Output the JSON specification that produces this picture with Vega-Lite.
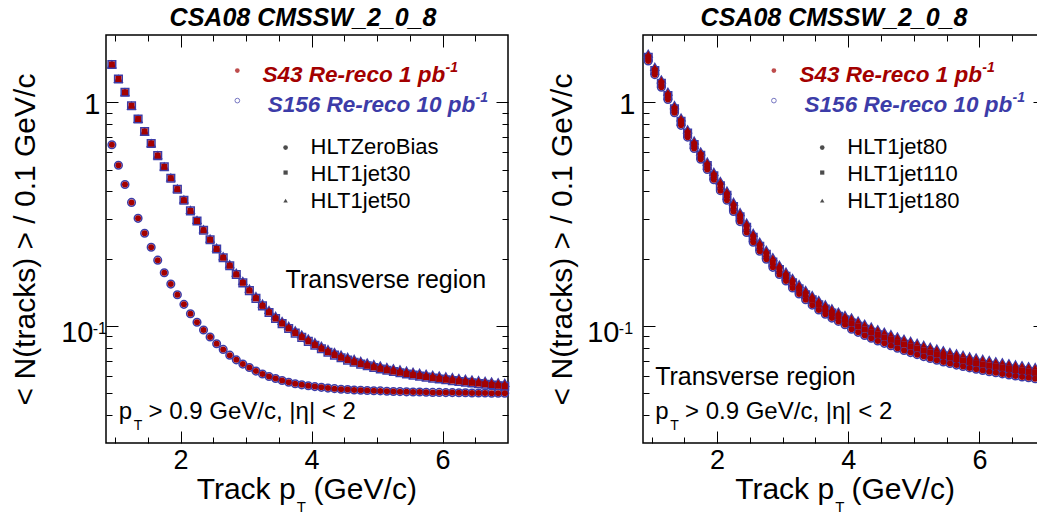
{
"$schema":"https://vega.github.io/schema/vega-lite/v6.json",
"padding":{"left":9,"top":4,"right":0,"bottom":0},
"spacing":33,
"config":{"font":"Liberation Sans","view":{"stroke":"#000","strokeWidth":1.5},
"axis":{"grid":false,"domain":false,"labelColor":"#000","labelFontSize":25,"labelFont":"Liberation Sans","tickColor":"#000","tickWidth":1,"titleColor":"#000","titleFontSize":30,"titleFontWeight":"normal","titleFont":"Liberation Sans"},
"title":{"fontSize":25,"fontWeight":"bold","fontStyle":"italic","color":"#000","offset":4,"frame":"group","font":"Liberation Sans"}},
"hconcat":[
{"width":402,"height":408,
"title":{"text":"CSA08 CMSSW_2_0_8","dx":-4},
"data":{"values":[
{"pt":0.95,"HLTZeroBias":0.646,"HLT1jet30":1.476,"HLT1jet50":1.476},
{"pt":1.05,"HLTZeroBias":0.523,"HLT1jet30":1.272,"HLT1jet50":1.272},
{"pt":1.15,"HLTZeroBias":0.429,"HLT1jet30":1.109,"HLT1jet50":1.109},
{"pt":1.25,"HLTZeroBias":0.357,"HLT1jet30":0.966,"HLT1jet50":0.966},
{"pt":1.35,"HLTZeroBias":0.303,"HLT1jet30":0.842,"HLT1jet50":0.842},
{"pt":1.45,"HLTZeroBias":0.260,"HLT1jet30":0.741,"HLT1jet50":0.741},
{"pt":1.55,"HLTZeroBias":0.225,"HLT1jet30":0.655,"HLT1jet50":0.656},
{"pt":1.65,"HLTZeroBias":0.197,"HLT1jet30":0.578,"HLT1jet50":0.580},
{"pt":1.75,"HLTZeroBias":0.173,"HLT1jet30":0.515,"HLT1jet50":0.517},
{"pt":1.85,"HLTZeroBias":0.154,"HLT1jet30":0.458,"HLT1jet50":0.461},
{"pt":1.95,"HLTZeroBias":0.138,"HLT1jet30":0.409,"HLT1jet50":0.412},
{"pt":2.05,"HLTZeroBias":0.125,"HLT1jet30":0.365,"HLT1jet50":0.368},
{"pt":2.15,"HLTZeroBias":0.1135,"HLT1jet30":0.327,"HLT1jet50":0.330},
{"pt":2.25,"HLTZeroBias":0.104,"HLT1jet30":0.295,"HLT1jet50":0.298},
{"pt":2.35,"HLTZeroBias":0.0960,"HLT1jet30":0.268,"HLT1jet50":0.271},
{"pt":2.45,"HLTZeroBias":0.0893,"HLT1jet30":0.243,"HLT1jet50":0.246},
{"pt":2.55,"HLTZeroBias":0.0833,"HLT1jet30":0.221,"HLT1jet50":0.224},
{"pt":2.65,"HLTZeroBias":0.0786,"HLT1jet30":0.202,"HLT1jet50":0.205},
{"pt":2.75,"HLTZeroBias":0.0741,"HLT1jet30":0.186,"HLT1jet50":0.189},
{"pt":2.85,"HLTZeroBias":0.0706,"HLT1jet30":0.170,"HLT1jet50":0.173},
{"pt":2.95,"HLTZeroBias":0.0676,"HLT1jet30":0.156,"HLT1jet50":0.159},
{"pt":3.05,"HLTZeroBias":0.0653,"HLT1jet30":0.144,"HLT1jet50":0.147},
{"pt":3.15,"HLTZeroBias":0.0629,"HLT1jet30":0.133,"HLT1jet50":0.136},
{"pt":3.25,"HLTZeroBias":0.0610,"HLT1jet30":0.123,"HLT1jet50":0.126},
{"pt":3.35,"HLTZeroBias":0.0595,"HLT1jet30":0.115,"HLT1jet50":0.118},
{"pt":3.45,"HLTZeroBias":0.0583,"HLT1jet30":0.108,"HLT1jet50":0.111},
{"pt":3.55,"HLTZeroBias":0.0571,"HLT1jet30":0.1025,"HLT1jet50":0.1053},
{"pt":3.65,"HLTZeroBias":0.0561,"HLT1jet30":0.0975,"HLT1jet50":0.1002},
{"pt":3.75,"HLTZeroBias":0.0552,"HLT1jet30":0.0930,"HLT1jet50":0.0957},
{"pt":3.85,"HLTZeroBias":0.0546,"HLT1jet30":0.0890,"HLT1jet50":0.0917},
{"pt":3.95,"HLTZeroBias":0.0541,"HLT1jet30":0.0854,"HLT1jet50":0.0880},
{"pt":4.05,"HLTZeroBias":0.0536,"HLT1jet30":0.0821,"HLT1jet50":0.0847},
{"pt":4.15,"HLTZeroBias":0.0532,"HLT1jet30":0.0791,"HLT1jet50":0.0816},
{"pt":4.25,"HLTZeroBias":0.0528,"HLT1jet30":0.0764,"HLT1jet50":0.0789},
{"pt":4.35,"HLTZeroBias":0.0525,"HLT1jet30":0.0741,"HLT1jet50":0.0766},
{"pt":4.45,"HLTZeroBias":0.0522,"HLT1jet30":0.0721,"HLT1jet50":0.0745},
{"pt":4.55,"HLTZeroBias":0.0520,"HLT1jet30":0.0704,"HLT1jet50":0.0728},
{"pt":4.65,"HLTZeroBias":0.0518,"HLT1jet30":0.0689,"HLT1jet50":0.0713},
{"pt":4.75,"HLTZeroBias":0.0516,"HLT1jet30":0.0676,"HLT1jet50":0.0699},
{"pt":4.85,"HLTZeroBias":0.0515,"HLT1jet30":0.0664,"HLT1jet50":0.0687},
{"pt":4.95,"HLTZeroBias":0.0514,"HLT1jet30":0.0653,"HLT1jet50":0.0676},
{"pt":5.05,"HLTZeroBias":0.0513,"HLT1jet30":0.0643,"HLT1jet50":0.0666},
{"pt":5.15,"HLTZeroBias":0.0511,"HLT1jet30":0.0634,"HLT1jet50":0.0656},
{"pt":5.25,"HLTZeroBias":0.0510,"HLT1jet30":0.0626,"HLT1jet50":0.0648},
{"pt":5.35,"HLTZeroBias":0.0509,"HLT1jet30":0.0618,"HLT1jet50":0.0640},
{"pt":5.45,"HLTZeroBias":0.0508,"HLT1jet30":0.0610,"HLT1jet50":0.0632},
{"pt":5.55,"HLTZeroBias":0.0507,"HLT1jet30":0.0603,"HLT1jet50":0.0625},
{"pt":5.65,"HLTZeroBias":0.0507,"HLT1jet30":0.0597,"HLT1jet50":0.0618},
{"pt":5.75,"HLTZeroBias":0.0506,"HLT1jet30":0.0591,"HLT1jet50":0.0612},
{"pt":5.85,"HLTZeroBias":0.0505,"HLT1jet30":0.0585,"HLT1jet50":0.0606},
{"pt":5.95,"HLTZeroBias":0.0505,"HLT1jet30":0.0580,"HLT1jet50":0.0601},
{"pt":6.05,"HLTZeroBias":0.0504,"HLT1jet30":0.0575,"HLT1jet50":0.0596},
{"pt":6.15,"HLTZeroBias":0.0504,"HLT1jet30":0.0570,"HLT1jet50":0.0591},
{"pt":6.25,"HLTZeroBias":0.0503,"HLT1jet30":0.0565,"HLT1jet50":0.0586},
{"pt":6.35,"HLTZeroBias":0.0503,"HLT1jet30":0.0561,"HLT1jet50":0.0581},
{"pt":6.45,"HLTZeroBias":0.0502,"HLT1jet30":0.0557,"HLT1jet50":0.0577},
{"pt":6.55,"HLTZeroBias":0.0502,"HLT1jet30":0.0553,"HLT1jet50":0.0573},
{"pt":6.65,"HLTZeroBias":0.0502,"HLT1jet30":0.0549,"HLT1jet50":0.0569},
{"pt":6.75,"HLTZeroBias":0.0501,"HLT1jet30":0.0545,"HLT1jet50":0.0565},
{"pt":6.85,"HLTZeroBias":0.0501,"HLT1jet30":0.0541,"HLT1jet50":0.0561},
{"pt":6.95,"HLTZeroBias":0.0501,"HLT1jet30":0.0538,"HLT1jet50":0.0557}
]},
"transform":[{"fold":["HLTZeroBias","HLT1jet30","HLT1jet50"],"as":["trigger","n"]}],
"resolve":{"axis":{"x":"independent","y":"independent"}},
"layer":[
{"mark":{"type":"point","filled":false,"stroke":"#3c3ca8","strokeWidth":1.5,"size":58,"opacity":1},
"encoding":{
"x":{"field":"pt","type":"quantitative","scale":{"domain":[0.86,7],"nice":false,"zero":false},"axis":{"orient":"bottom","values":[1,1.5,2,2.5,3,3.5,4,4.5,5,5.5,6,6.5],"labels":false,"title":null,"tickSize":{"condition":{"test":"datum.value === 2 || datum.value === 4 || datum.value === 6","value":-12},"value":-6}}},
"y":{"field":"n","type":"quantitative","scale":{"type":"log","domain":[0.03,2],"nice":false},"axis":{"orient":"left","values":[0.04,0.05,0.06,0.07,0.08,0.09,0.1,0.2,0.3,0.4,0.5,0.6,0.7,0.8,0.9,1],"labels":false,"title":null,"tickSize":{"condition":{"test":"datum.value === 0.1 || datum.value === 1","value":-12},"value":-6}}},
"shape":{"field":"trigger","type":"nominal","scale":{"domain":["HLTZeroBias","HLT1jet30","HLT1jet50"],"range":["circle","square","triangle-up"]},"legend":null}}},
{"mark":{"type":"point","filled":true,"color":"#a30000","size":36,"opacity":1,"strokeWidth":0},
"encoding":{
"x":{"field":"pt","type":"quantitative","scale":{"domain":[0.86,7],"nice":false,"zero":false},"axis":{"orient":"bottom","values":[2,4,6],"ticks":false,"labelPadding":4,"labelFontSize":27,"title":null}},
"y":{"field":"n","type":"quantitative","scale":{"type":"log","domain":[0.03,2],"nice":false},"axis":{"orient":"left","values":[0.1,1],"ticks":false,"labelFontSize":29,"labelPadding":{"condition":{"test":"datum.value === 1","value":6},"value":13},"labelOffset":{"condition":{"test":"datum.value === 1","value":2},"value":6},"labelExpr":"datum.value === 1 ? '1' : '10'","minExtent":60,"maxExtent":60,"title":"< N(tracks) > / 0.1 GeV/c","titlePadding":6}},
"shape":{"field":"trigger","type":"nominal","scale":{"domain":["HLTZeroBias","HLT1jet30","HLT1jet50"],"range":["circle","square","triangle-up"]},"legend":null}}},
{"data":{"values":[{}]},"mark":{"type":"point","opacity":0},
"encoding":{
"x":{"datum":2,"type":"quantitative","scale":{"domain":[0.86,7],"nice":false,"zero":false},"axis":{"orient":"top","values":[1,1.5,2,2.5,3,3.5,4,4.5,5,5.5,6,6.5],"labels":false,"title":null,"tickSize":{"condition":{"test":"datum.value === 2 || datum.value === 4 || datum.value === 6","value":-12},"value":-6}}},
"y":{"datum":1,"type":"quantitative","scale":{"type":"log","domain":[0.03,2],"nice":false},"axis":{"orient":"right","values":[0.04,0.05,0.06,0.07,0.08,0.09,0.1,0.2,0.3,0.4,0.5,0.6,0.7,0.8,0.9,1],"labels":false,"title":null,"tickSize":{"condition":{"test":"datum.value === 0.1 || datum.value === 1","value":-12},"value":-6}}}}},
{"data":{"values":[{}]},"mark":{"type":"text","text":"-1","align":"left","baseline":"alphabetic","fontSize":16,"color":"#000"},"encoding":{"x":{"datum":0.656,"type":"quantitative","scale":{"domain":[0.86,7],"nice":false,"zero":false},"axis":null},"y":{"datum":0.0921,"type":"quantitative","scale":{"type":"log","domain":[0.03,2],"nice":false},"axis":null}}},
{"data":{"values":[{}]},"mark":{"type":"point","filled":true,"color":"#a30000","size":22},"encoding":{"x":{"datum":2.866,"type":"quantitative","scale":{"domain":[0.86,7],"nice":false,"zero":false},"axis":null},"y":{"datum":1.387,"type":"quantitative","scale":{"type":"log","domain":[0.03,2],"nice":false},"axis":null}}},
{"data":{"values":[{}]},"mark":{"type":"point","filled":false,"stroke":"#3c3ca8","strokeWidth":1,"size":22},"encoding":{"x":{"datum":2.866,"type":"quantitative","scale":{"domain":[0.86,7],"nice":false,"zero":false},"axis":null},"y":{"datum":1.018,"type":"quantitative","scale":{"type":"log","domain":[0.03,2],"nice":false},"axis":null}}},
{"data":{"values":[{}]},"mark":{"type":"text","text":"S43 Re-reco 1 pb","align":"right","baseline":"alphabetic","fontSize":22.5,"fontWeight":"bold","fontStyle":"italic","color":"#a30000"},"encoding":{"x":{"datum":6.04,"type":"quantitative","scale":{"domain":[0.86,7],"nice":false,"zero":false},"axis":null},"y":{"datum":1.229,"type":"quantitative","scale":{"type":"log","domain":[0.03,2],"nice":false},"axis":null}}},
{"data":{"values":[{}]},"mark":{"type":"text","text":"-1","align":"left","baseline":"alphabetic","fontSize":14,"fontWeight":"bold","fontStyle":"italic","color":"#a30000"},"encoding":{"x":{"datum":6.045,"type":"quantitative","scale":{"domain":[0.86,7],"nice":false,"zero":false},"axis":null},"y":{"datum":1.363,"type":"quantitative","scale":{"type":"log","domain":[0.03,2],"nice":false},"axis":null}}},
{"data":{"values":[{}]},"mark":{"type":"text","text":"S156 Re-reco 10 pb","align":"right","baseline":"alphabetic","fontSize":22.5,"fontWeight":"bold","fontStyle":"italic","color":"#3c3ca8"},"encoding":{"x":{"datum":6.5,"type":"quantitative","scale":{"domain":[0.86,7],"nice":false,"zero":false},"axis":null},"y":{"datum":0.902,"type":"quantitative","scale":{"type":"log","domain":[0.03,2],"nice":false},"axis":null}}},
{"data":{"values":[{}]},"mark":{"type":"text","text":"-1","align":"left","baseline":"alphabetic","fontSize":14,"fontWeight":"bold","fontStyle":"italic","color":"#3c3ca8"},"encoding":{"x":{"datum":6.505,"type":"quantitative","scale":{"domain":[0.86,7],"nice":false,"zero":false},"axis":null},"y":{"datum":1.0,"type":"quantitative","scale":{"type":"log","domain":[0.03,2],"nice":false},"axis":null}}},
{"data":{"values":[{}]},"mark":{"type":"point","filled":true,"color":"#000","size":22,"shape":"circle"},"encoding":{"x":{"datum":3.603,"type":"quantitative","scale":{"domain":[0.86,7],"nice":false,"zero":false},"axis":null},"y":{"datum":0.628,"type":"quantitative","scale":{"type":"log","domain":[0.03,2],"nice":false},"axis":null}}},
{"data":{"values":[{}]},"mark":{"type":"point","filled":true,"color":"#000","size":18,"shape":"square"},"encoding":{"x":{"datum":3.603,"type":"quantitative","scale":{"domain":[0.86,7],"nice":false,"zero":false},"axis":null},"y":{"datum":0.4854,"type":"quantitative","scale":{"type":"log","domain":[0.03,2],"nice":false},"axis":null}}},
{"data":{"values":[{}]},"mark":{"type":"point","filled":true,"color":"#000","size":20,"shape":"triangle-up"},"encoding":{"x":{"datum":3.603,"type":"quantitative","scale":{"domain":[0.86,7],"nice":false,"zero":false},"axis":null},"y":{"datum":0.3635,"type":"quantitative","scale":{"type":"log","domain":[0.03,2],"nice":false},"axis":null}}},
{"data":{"values":[{}]},"mark":{"type":"text","text":"HLTZeroBias","align":"left","baseline":"alphabetic","fontSize":22,"color":"#000"},"encoding":{"x":{"datum":3.985,"type":"quantitative","scale":{"domain":[0.86,7],"nice":false,"zero":false},"axis":null},"y":{"datum":0.5863,"type":"quantitative","scale":{"type":"log","domain":[0.03,2],"nice":false},"axis":null}}},
{"data":{"values":[{}]},"mark":{"type":"text","text":"HLT1jet30","align":"left","baseline":"alphabetic","fontSize":22,"color":"#000"},"encoding":{"x":{"datum":3.985,"type":"quantitative","scale":{"domain":[0.86,7],"nice":false,"zero":false},"axis":null},"y":{"datum":0.4469,"type":"quantitative","scale":{"type":"log","domain":[0.03,2],"nice":false},"axis":null}}},
{"data":{"values":[{}]},"mark":{"type":"text","text":"HLT1jet50","align":"left","baseline":"alphabetic","fontSize":22,"color":"#000"},"encoding":{"x":{"datum":3.985,"type":"quantitative","scale":{"domain":[0.86,7],"nice":false,"zero":false},"axis":null},"y":{"datum":0.3381,"type":"quantitative","scale":{"type":"log","domain":[0.03,2],"nice":false},"axis":null}}},
{"data":{"values":[{}]},"mark":{"type":"text","text":"Transverse region","align":"left","baseline":"alphabetic","fontSize":25,"color":"#000"},"encoding":{"x":{"datum":3.603,"type":"quantitative","scale":{"domain":[0.86,7],"nice":false,"zero":false},"axis":null},"y":{"datum":0.148,"type":"quantitative","scale":{"type":"log","domain":[0.03,2],"nice":false},"axis":null}}},
{"data":{"values":[{}]},"mark":{"type":"text","text":"p","align":"left","baseline":"alphabetic","fontSize":24,"color":"#000"},"encoding":{"x":{"datum":1.053,"type":"quantitative","scale":{"domain":[0.86,7],"nice":false,"zero":false},"axis":null},"y":{"datum":0.0383,"type":"quantitative","scale":{"type":"log","domain":[0.03,2],"nice":false},"axis":null}}},
{"data":{"values":[{}]},"mark":{"type":"text","text":"T","align":"left","baseline":"alphabetic","fontSize":14,"color":"#000"},"encoding":{"x":{"datum":1.282,"type":"quantitative","scale":{"domain":[0.86,7],"nice":false,"zero":false},"axis":null},"y":{"datum":0.0342,"type":"quantitative","scale":{"type":"log","domain":[0.03,2],"nice":false},"axis":null}}},
{"data":{"values":[{}]},"mark":{"type":"text","text":"> 0.9 GeV/c, |η| < 2","align":"left","baseline":"alphabetic","fontSize":24,"color":"#000"},"encoding":{"x":{"datum":1.51,"type":"quantitative","scale":{"domain":[0.86,7],"nice":false,"zero":false},"axis":null},"y":{"datum":0.0383,"type":"quantitative","scale":{"type":"log","domain":[0.03,2],"nice":false},"axis":null}}},
{"data":{"values":[{}]},"mark":{"type":"text","text":"Track p","align":"right","baseline":"alphabetic","fontSize":30,"color":"#000"},"encoding":{"x":{"datum":3.756,"type":"quantitative","scale":{"domain":[0.86,7],"nice":false,"zero":false},"axis":null},"y":{"datum":0.01693,"type":"quantitative","scale":{"type":"log","domain":[0.03,2],"nice":false},"axis":null}}},
{"data":{"values":[{}]},"mark":{"type":"text","text":"T","align":"left","baseline":"alphabetic","fontSize":15,"color":"#000"},"encoding":{"x":{"datum":3.772,"type":"quantitative","scale":{"domain":[0.86,7],"nice":false,"zero":false},"axis":null},"y":{"datum":0.01481,"type":"quantitative","scale":{"type":"log","domain":[0.03,2],"nice":false},"axis":null}}},
{"data":{"values":[{}]},"mark":{"type":"text","text":"(GeV/c)","align":"left","baseline":"alphabetic","fontSize":30,"color":"#000"},"encoding":{"x":{"datum":4.03,"type":"quantitative","scale":{"domain":[0.86,7],"nice":false,"zero":false},"axis":null},"y":{"datum":0.01693,"type":"quantitative","scale":{"type":"log","domain":[0.03,2],"nice":false},"axis":null}}}
]},
{"width":402,"height":408,
"title":{"text":"CSA08 CMSSW_2_0_8","dx":-10},
"data":{"values":[
{"pt":0.95,"HLT1jet80":1.53,"HLT1jet110":1.59,"HLT1jet180":1.65},
{"pt":1.05,"HLT1jet80":1.33,"HLT1jet110":1.387,"HLT1jet180":1.44},
{"pt":1.15,"HLT1jet80":1.168,"HLT1jet110":1.217,"HLT1jet180":1.266},
{"pt":1.25,"HLT1jet80":1.029,"HLT1jet110":1.072,"HLT1jet180":1.115},
{"pt":1.35,"HLT1jet80":0.898,"HLT1jet110":0.935,"HLT1jet180":0.972},
{"pt":1.45,"HLT1jet80":0.789,"HLT1jet110":0.822,"HLT1jet180":0.855},
{"pt":1.55,"HLT1jet80":0.699,"HLT1jet110":0.728,"HLT1jet180":0.757},
{"pt":1.65,"HLT1jet80":0.622,"HLT1jet110":0.648,"HLT1jet180":0.674},
{"pt":1.75,"HLT1jet80":0.557,"HLT1jet110":0.580,"HLT1jet180":0.603},
{"pt":1.85,"HLT1jet80":0.501,"HLT1jet110":0.522,"HLT1jet180":0.543},
{"pt":1.95,"HLT1jet80":0.451,"HLT1jet110":0.470,"HLT1jet180":0.489},
{"pt":2.05,"HLT1jet80":0.403,"HLT1jet110":0.424,"HLT1jet180":0.445},
{"pt":2.15,"HLT1jet80":0.365,"HLT1jet110":0.384,"HLT1jet180":0.403},
{"pt":2.25,"HLT1jet80":0.325,"HLT1jet110":0.342,"HLT1jet180":0.359},
{"pt":2.35,"HLT1jet80":0.293,"HLT1jet110":0.308,"HLT1jet180":0.323},
{"pt":2.45,"HLT1jet80":0.262,"HLT1jet110":0.276,"HLT1jet180":0.290},
{"pt":2.55,"HLT1jet80":0.237,"HLT1jet110":0.249,"HLT1jet180":0.261},
{"pt":2.65,"HLT1jet80":0.216,"HLT1jet110":0.227,"HLT1jet180":0.238},
{"pt":2.75,"HLT1jet80":0.199,"HLT1jet110":0.209,"HLT1jet180":0.219},
{"pt":2.85,"HLT1jet80":0.183,"HLT1jet110":0.193,"HLT1jet180":0.203},
{"pt":2.95,"HLT1jet80":0.170,"HLT1jet110":0.179,"HLT1jet180":0.188},
{"pt":3.05,"HLT1jet80":0.159,"HLT1jet110":0.167,"HLT1jet180":0.175},
{"pt":3.15,"HLT1jet80":0.148,"HLT1jet110":0.156,"HLT1jet180":0.164},
{"pt":3.25,"HLT1jet80":0.139,"HLT1jet110":0.1466,"HLT1jet180":0.154},
{"pt":3.35,"HLT1jet80":0.131,"HLT1jet110":0.138,"HLT1jet180":0.145},
{"pt":3.45,"HLT1jet80":0.124,"HLT1jet110":0.131,"HLT1jet180":0.1375},
{"pt":3.55,"HLT1jet80":0.118,"HLT1jet110":0.1245,"HLT1jet180":0.1307},
{"pt":3.65,"HLT1jet80":0.113,"HLT1jet110":0.119,"HLT1jet180":0.125},
{"pt":3.75,"HLT1jet80":0.1085,"HLT1jet110":0.1142,"HLT1jet180":0.120},
{"pt":3.85,"HLT1jet80":0.1049,"HLT1jet110":0.1104,"HLT1jet180":0.1159},
{"pt":3.95,"HLT1jet80":0.1014,"HLT1jet110":0.1067,"HLT1jet180":0.1120},
{"pt":4.05,"HLT1jet80":0.0968,"HLT1jet110":0.1030,"HLT1jet180":0.1092},
{"pt":4.15,"HLT1jet80":0.0937,"HLT1jet110":0.0997,"HLT1jet180":0.1057},
{"pt":4.25,"HLT1jet80":0.0908,"HLT1jet110":0.0966,"HLT1jet180":0.1024},
{"pt":4.35,"HLT1jet80":0.0882,"HLT1jet110":0.0938,"HLT1jet180":0.0994},
{"pt":4.45,"HLT1jet80":0.0858,"HLT1jet110":0.0913,"HLT1jet180":0.0968},
{"pt":4.55,"HLT1jet80":0.0837,"HLT1jet110":0.0890,"HLT1jet180":0.0943},
{"pt":4.65,"HLT1jet80":0.0816,"HLT1jet110":0.0868,"HLT1jet180":0.0920},
{"pt":4.75,"HLT1jet80":0.0796,"HLT1jet110":0.0847,"HLT1jet180":0.0898},
{"pt":4.85,"HLT1jet80":0.0778,"HLT1jet110":0.0828,"HLT1jet180":0.0878},
{"pt":4.95,"HLT1jet80":0.0761,"HLT1jet110":0.0810,"HLT1jet180":0.0859},
{"pt":5.05,"HLT1jet80":0.0745,"HLT1jet110":0.0793,"HLT1jet180":0.0841},
{"pt":5.15,"HLT1jet80":0.0730,"HLT1jet110":0.0777,"HLT1jet180":0.0824},
{"pt":5.25,"HLT1jet80":0.0716,"HLT1jet110":0.0762,"HLT1jet180":0.0808},
{"pt":5.35,"HLT1jet80":0.0703,"HLT1jet110":0.0748,"HLT1jet180":0.0793},
{"pt":5.45,"HLT1jet80":0.0691,"HLT1jet110":0.0735,"HLT1jet180":0.0779},
{"pt":5.55,"HLT1jet80":0.0680,"HLT1jet110":0.0723,"HLT1jet180":0.0766},
{"pt":5.65,"HLT1jet80":0.0669,"HLT1jet110":0.0712,"HLT1jet180":0.0755},
{"pt":5.75,"HLT1jet80":0.0659,"HLT1jet110":0.0701,"HLT1jet180":0.0743},
{"pt":5.85,"HLT1jet80":0.0650,"HLT1jet110":0.0691,"HLT1jet180":0.0732},
{"pt":5.95,"HLT1jet80":0.0641,"HLT1jet110":0.0682,"HLT1jet180":0.0723},
{"pt":6.05,"HLT1jet80":0.0633,"HLT1jet110":0.0673,"HLT1jet180":0.0713},
{"pt":6.15,"HLT1jet80":0.0625,"HLT1jet110":0.0665,"HLT1jet180":0.0705},
{"pt":6.25,"HLT1jet80":0.0618,"HLT1jet110":0.0657,"HLT1jet180":0.0696},
{"pt":6.35,"HLT1jet80":0.0611,"HLT1jet110":0.0650,"HLT1jet180":0.0689},
{"pt":6.45,"HLT1jet80":0.0604,"HLT1jet110":0.0643,"HLT1jet180":0.0682},
{"pt":6.55,"HLT1jet80":0.0598,"HLT1jet110":0.0636,"HLT1jet180":0.0674},
{"pt":6.65,"HLT1jet80":0.0592,"HLT1jet110":0.0630,"HLT1jet180":0.0668},
{"pt":6.75,"HLT1jet80":0.0587,"HLT1jet110":0.0624,"HLT1jet180":0.0661},
{"pt":6.85,"HLT1jet80":0.0581,"HLT1jet110":0.0618,"HLT1jet180":0.0655},
{"pt":6.95,"HLT1jet80":0.0576,"HLT1jet110":0.0613,"HLT1jet180":0.0650}
]},
"transform":[{"fold":["HLT1jet80","HLT1jet110","HLT1jet180"],"as":["trigger","n"]}],
"resolve":{"axis":{"x":"independent","y":"independent"}},
"layer":[
{"mark":{"type":"point","filled":false,"stroke":"#3c3ca8","strokeWidth":1.5,"size":58,"opacity":1},
"encoding":{
"x":{"field":"pt","type":"quantitative","scale":{"domain":[0.87,7],"nice":false,"zero":false},"axis":{"orient":"bottom","values":[1,1.5,2,2.5,3,3.5,4,4.5,5,5.5,6,6.5],"labels":false,"title":null,"tickSize":{"condition":{"test":"datum.value === 2 || datum.value === 4 || datum.value === 6","value":-12},"value":-6}}},
"y":{"field":"n","type":"quantitative","scale":{"type":"log","domain":[0.03,2],"nice":false},"axis":{"orient":"left","values":[0.04,0.05,0.06,0.07,0.08,0.09,0.1,0.2,0.3,0.4,0.5,0.6,0.7,0.8,0.9,1],"labels":false,"title":null,"tickSize":{"condition":{"test":"datum.value === 0.1 || datum.value === 1","value":-12},"value":-6}}},
"shape":{"field":"trigger","type":"nominal","scale":{"domain":["HLT1jet80","HLT1jet110","HLT1jet180"],"range":["circle","square","triangle-up"]},"legend":null}}},
{"mark":{"type":"point","filled":true,"color":"#a30000","size":36,"opacity":1,"strokeWidth":0},
"encoding":{
"x":{"field":"pt","type":"quantitative","scale":{"domain":[0.87,7],"nice":false,"zero":false},"axis":{"orient":"bottom","values":[2,4,6],"ticks":false,"labelPadding":4,"labelFontSize":27,"title":null}},
"y":{"field":"n","type":"quantitative","scale":{"type":"log","domain":[0.03,2],"nice":false},"axis":{"orient":"left","values":[0.1,1],"ticks":false,"labelFontSize":29,"labelPadding":{"condition":{"test":"datum.value === 1","value":8},"value":24},"labelOffset":{"condition":{"test":"datum.value === 1","value":2},"value":6},"labelExpr":"datum.value === 1 ? '1' : '10'","minExtent":60,"maxExtent":60,"title":"< N(tracks) > / 0.1 GeV/c","titlePadding":6}},
"shape":{"field":"trigger","type":"nominal","scale":{"domain":["HLT1jet80","HLT1jet110","HLT1jet180"],"range":["circle","square","triangle-up"]},"legend":null}}},
{"data":{"values":[{}]},"mark":{"type":"point","opacity":0},
"encoding":{
"x":{"datum":2,"type":"quantitative","scale":{"domain":[0.87,7],"nice":false,"zero":false},"axis":{"orient":"top","values":[1,1.5,2,2.5,3,3.5,4,4.5,5,5.5,6,6.5],"labels":false,"title":null,"tickSize":{"condition":{"test":"datum.value === 2 || datum.value === 4 || datum.value === 6","value":-12},"value":-6}}},
"y":{"datum":1,"type":"quantitative","scale":{"type":"log","domain":[0.03,2],"nice":false},"axis":{"orient":"right","values":[0.04,0.05,0.06,0.07,0.08,0.09,0.1,0.2,0.3,0.4,0.5,0.6,0.7,0.8,0.9,1],"labels":false,"title":null,"tickSize":{"condition":{"test":"datum.value === 0.1 || datum.value === 1","value":-12},"value":-6}}}}},
{"data":{"values":[{}]},"mark":{"type":"text","text":"-1","align":"left","baseline":"alphabetic","fontSize":16,"color":"#000"},"encoding":{"x":{"datum":0.502,"type":"quantitative","scale":{"domain":[0.87,7],"nice":false,"zero":false},"axis":null},"y":{"datum":0.0921,"type":"quantitative","scale":{"type":"log","domain":[0.03,2],"nice":false},"axis":null}}},
{"data":{"values":[{}]},"mark":{"type":"point","filled":true,"color":"#a30000","size":22},"encoding":{"x":{"datum":2.866,"type":"quantitative","scale":{"domain":[0.87,7],"nice":false,"zero":false},"axis":null},"y":{"datum":1.387,"type":"quantitative","scale":{"type":"log","domain":[0.03,2],"nice":false},"axis":null}}},
{"data":{"values":[{}]},"mark":{"type":"point","filled":false,"stroke":"#3c3ca8","strokeWidth":1,"size":22},"encoding":{"x":{"datum":2.866,"type":"quantitative","scale":{"domain":[0.87,7],"nice":false,"zero":false},"axis":null},"y":{"datum":1.018,"type":"quantitative","scale":{"type":"log","domain":[0.03,2],"nice":false},"axis":null}}},
{"data":{"values":[{}]},"mark":{"type":"text","text":"S43 Re-reco 1 pb","align":"right","baseline":"alphabetic","fontSize":22.5,"fontWeight":"bold","fontStyle":"italic","color":"#a30000"},"encoding":{"x":{"datum":6.04,"type":"quantitative","scale":{"domain":[0.87,7],"nice":false,"zero":false},"axis":null},"y":{"datum":1.229,"type":"quantitative","scale":{"type":"log","domain":[0.03,2],"nice":false},"axis":null}}},
{"data":{"values":[{}]},"mark":{"type":"text","text":"-1","align":"left","baseline":"alphabetic","fontSize":14,"fontWeight":"bold","fontStyle":"italic","color":"#a30000"},"encoding":{"x":{"datum":6.045,"type":"quantitative","scale":{"domain":[0.87,7],"nice":false,"zero":false},"axis":null},"y":{"datum":1.363,"type":"quantitative","scale":{"type":"log","domain":[0.03,2],"nice":false},"axis":null}}},
{"data":{"values":[{}]},"mark":{"type":"text","text":"S156 Re-reco 10 pb","align":"right","baseline":"alphabetic","fontSize":22.5,"fontWeight":"bold","fontStyle":"italic","color":"#3c3ca8"},"encoding":{"x":{"datum":6.5,"type":"quantitative","scale":{"domain":[0.87,7],"nice":false,"zero":false},"axis":null},"y":{"datum":0.902,"type":"quantitative","scale":{"type":"log","domain":[0.03,2],"nice":false},"axis":null}}},
{"data":{"values":[{}]},"mark":{"type":"text","text":"-1","align":"left","baseline":"alphabetic","fontSize":14,"fontWeight":"bold","fontStyle":"italic","color":"#3c3ca8"},"encoding":{"x":{"datum":6.505,"type":"quantitative","scale":{"domain":[0.87,7],"nice":false,"zero":false},"axis":null},"y":{"datum":1.0,"type":"quantitative","scale":{"type":"log","domain":[0.03,2],"nice":false},"axis":null}}},
{"data":{"values":[{}]},"mark":{"type":"point","filled":true,"color":"#000","size":22,"shape":"circle"},"encoding":{"x":{"datum":3.603,"type":"quantitative","scale":{"domain":[0.87,7],"nice":false,"zero":false},"axis":null},"y":{"datum":0.628,"type":"quantitative","scale":{"type":"log","domain":[0.03,2],"nice":false},"axis":null}}},
{"data":{"values":[{}]},"mark":{"type":"point","filled":true,"color":"#000","size":18,"shape":"square"},"encoding":{"x":{"datum":3.603,"type":"quantitative","scale":{"domain":[0.87,7],"nice":false,"zero":false},"axis":null},"y":{"datum":0.4854,"type":"quantitative","scale":{"type":"log","domain":[0.03,2],"nice":false},"axis":null}}},
{"data":{"values":[{}]},"mark":{"type":"point","filled":true,"color":"#000","size":20,"shape":"triangle-up"},"encoding":{"x":{"datum":3.603,"type":"quantitative","scale":{"domain":[0.87,7],"nice":false,"zero":false},"axis":null},"y":{"datum":0.3635,"type":"quantitative","scale":{"type":"log","domain":[0.03,2],"nice":false},"axis":null}}},
{"data":{"values":[{}]},"mark":{"type":"text","text":"HLT1jet80","align":"left","baseline":"alphabetic","fontSize":22,"color":"#000"},"encoding":{"x":{"datum":3.985,"type":"quantitative","scale":{"domain":[0.87,7],"nice":false,"zero":false},"axis":null},"y":{"datum":0.5863,"type":"quantitative","scale":{"type":"log","domain":[0.03,2],"nice":false},"axis":null}}},
{"data":{"values":[{}]},"mark":{"type":"text","text":"HLT1jet110","align":"left","baseline":"alphabetic","fontSize":22,"color":"#000"},"encoding":{"x":{"datum":3.985,"type":"quantitative","scale":{"domain":[0.87,7],"nice":false,"zero":false},"axis":null},"y":{"datum":0.4469,"type":"quantitative","scale":{"type":"log","domain":[0.03,2],"nice":false},"axis":null}}},
{"data":{"values":[{}]},"mark":{"type":"text","text":"HLT1jet180","align":"left","baseline":"alphabetic","fontSize":22,"color":"#000"},"encoding":{"x":{"datum":3.985,"type":"quantitative","scale":{"domain":[0.87,7],"nice":false,"zero":false},"axis":null},"y":{"datum":0.3381,"type":"quantitative","scale":{"type":"log","domain":[0.03,2],"nice":false},"axis":null}}},
{"data":{"values":[{}]},"mark":{"type":"text","text":"Transverse region","align":"left","baseline":"alphabetic","fontSize":25,"color":"#000"},"encoding":{"x":{"datum":1.055,"type":"quantitative","scale":{"domain":[0.87,7],"nice":false,"zero":false},"axis":null},"y":{"datum":0.0545,"type":"quantitative","scale":{"type":"log","domain":[0.03,2],"nice":false},"axis":null}}},
{"data":{"values":[{}]},"mark":{"type":"text","text":"p","align":"left","baseline":"alphabetic","fontSize":24,"color":"#000"},"encoding":{"x":{"datum":1.055,"type":"quantitative","scale":{"domain":[0.87,7],"nice":false,"zero":false},"axis":null},"y":{"datum":0.0385,"type":"quantitative","scale":{"type":"log","domain":[0.03,2],"nice":false},"axis":null}}},
{"data":{"values":[{}]},"mark":{"type":"text","text":"T","align":"left","baseline":"alphabetic","fontSize":14,"color":"#000"},"encoding":{"x":{"datum":1.284,"type":"quantitative","scale":{"domain":[0.87,7],"nice":false,"zero":false},"axis":null},"y":{"datum":0.0344,"type":"quantitative","scale":{"type":"log","domain":[0.03,2],"nice":false},"axis":null}}},
{"data":{"values":[{}]},"mark":{"type":"text","text":"> 0.9 GeV/c, |η| < 2","align":"left","baseline":"alphabetic","fontSize":24,"color":"#000"},"encoding":{"x":{"datum":1.51,"type":"quantitative","scale":{"domain":[0.87,7],"nice":false,"zero":false},"axis":null},"y":{"datum":0.0385,"type":"quantitative","scale":{"type":"log","domain":[0.03,2],"nice":false},"axis":null}}},
{"data":{"values":[{}]},"mark":{"type":"text","text":"Track p","align":"right","baseline":"alphabetic","fontSize":30,"color":"#000"},"encoding":{"x":{"datum":3.784,"type":"quantitative","scale":{"domain":[0.87,7],"nice":false,"zero":false},"axis":null},"y":{"datum":0.01693,"type":"quantitative","scale":{"type":"log","domain":[0.03,2],"nice":false},"axis":null}}},
{"data":{"values":[{}]},"mark":{"type":"text","text":"T","align":"left","baseline":"alphabetic","fontSize":15,"color":"#000"},"encoding":{"x":{"datum":3.80,"type":"quantitative","scale":{"domain":[0.87,7],"nice":false,"zero":false},"axis":null},"y":{"datum":0.01481,"type":"quantitative","scale":{"type":"log","domain":[0.03,2],"nice":false},"axis":null}}},
{"data":{"values":[{}]},"mark":{"type":"text","text":"(GeV/c)","align":"left","baseline":"alphabetic","fontSize":30,"color":"#000"},"encoding":{"x":{"datum":4.05,"type":"quantitative","scale":{"domain":[0.87,7],"nice":false,"zero":false},"axis":null},"y":{"datum":0.01693,"type":"quantitative","scale":{"type":"log","domain":[0.03,2],"nice":false},"axis":null}}}
]}
]}
